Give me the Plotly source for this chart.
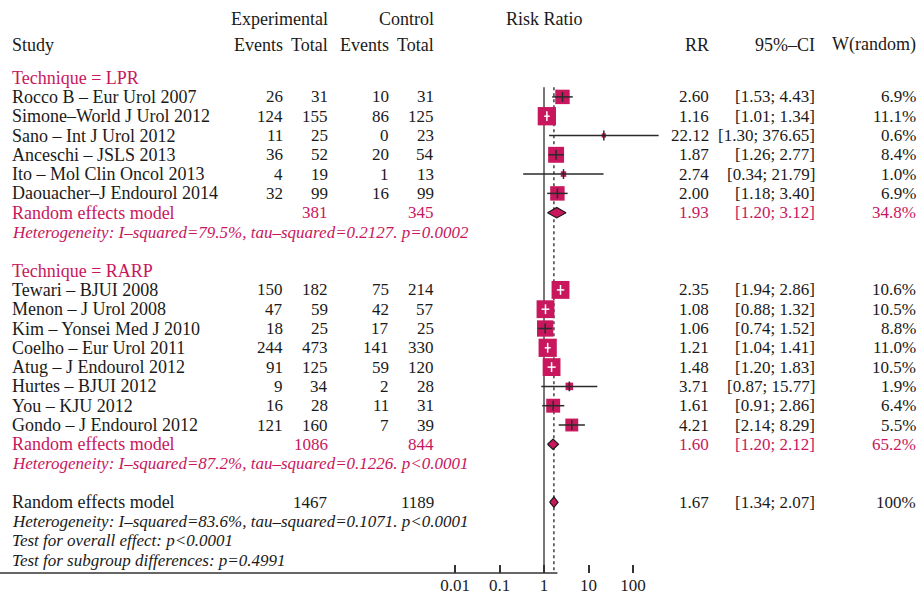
import numpy as np
import plotly.graph_objects as go

# ---------------- data ----------------
lpr_study = ["Rocco B – Eur Urol 2007", "Simone–World J Urol 2012", "Sano – Int J Urol 2012",
             "Anceschi – JSLS 2013", "Ito – Mol Clin Oncol 2013", "Daouacher–J Endourol 2014"]
lpr_exp_ev = [26, 124, 11, 36, 4, 32]
lpr_exp_tot = [31, 155, 25, 52, 19, 99]
lpr_ctl_ev = [10, 86, 0, 20, 1, 16]
lpr_ctl_tot = [31, 125, 23, 54, 13, 99]
lpr_rr = [2.60, 1.16, 22.12, 1.87, 2.74, 2.00]
lpr_lo = [1.53, 1.01, 1.30, 1.26, 0.34, 1.18]
lpr_hi = [4.43, 1.34, 376.65, 2.77, 21.79, 3.40]
lpr_w = [6.9, 11.1, 0.6, 8.4, 1.0, 6.9]
lpr_sum = dict(exp_tot=381, ctl_tot=345, rr=1.93, lo=1.20, hi=3.12, w=34.8)
lpr_het = "Heterogeneity: I–squared=79.5%, tau–squared=0.2127. p=0.0002"

rarp_study = ["Tewari – BJUI 2008", "Menon – J Urol 2008", "Kim – Yonsei Med J 2010",
              "Coelho – Eur Urol 2011", "Atug – J Endourol 2012", "Hurtes – BJUI 2012",
              "You – KJU 2012", "Gondo – J Endourol 2012"]
rarp_exp_ev = [150, 47, 18, 244, 91, 9, 16, 121]
rarp_exp_tot = [182, 59, 25, 473, 125, 34, 28, 160]
rarp_ctl_ev = [75, 42, 17, 141, 59, 2, 11, 7]
rarp_ctl_tot = [214, 57, 25, 330, 120, 28, 31, 39]
rarp_rr = [2.35, 1.08, 1.06, 1.21, 1.48, 3.71, 1.61, 4.21]
rarp_lo = [1.94, 0.88, 0.74, 1.04, 1.20, 0.87, 0.91, 2.14]
rarp_hi = [2.86, 1.32, 1.52, 1.41, 1.83, 15.77, 2.86, 8.29]
rarp_w = [10.6, 10.5, 8.8, 11.0, 10.5, 1.9, 6.4, 5.5]
rarp_sum = dict(exp_tot=1086, ctl_tot=844, rr=1.60, lo=1.20, hi=2.12, w=65.2)
rarp_het = "Heterogeneity: I–squared=87.2%, tau–squared=0.1226. p<0.0001"

overall = dict(exp_tot=1467, ctl_tot=1189, rr=1.67, lo=1.34, hi=2.07, w=100)
overall_texts = ["Heterogeneity: I–squared=83.6%, tau–squared=0.1071. p<0.0001",
                 "Test for overall effect: p<0.0001",
                 "Test for subgroup differences: p=0.4991"]

tick_vals = [0.01, 0.1, 1, 10, 100]
tick_text = ["0.01", "0.1", "1", "10", "100"]

# ---------------- style ----------------
W, H = 917, 597
PINK = "#C8175D"
BLACK = "#1a1a1a"
FONT = "Liberation Serif, Times New Roman, serif"
FS_TXT = 18
FS_NUM = 17
FS_IT = 17
PAD = 3
ROW0_PX, ROW_PX = 77.6, 19.3
AXIS_PX = 573
X1_PX, DEC_PX = 544, 44.5
y_bottom = (AXIS_PX - ROW0_PX) / ROW_PX
y_top = -ROW0_PX / ROW_PX
x_lo = -(X1_PX) / DEC_PX
x_hi = (W - X1_PX) / DEC_PX

fig = go.Figure()
ann = []


def txt(xpx, row, s, anchor="left", color=BLACK, italic=False, size=FS_TXT):
    if italic:
        s = "<i>" + s + "</i>"
    if anchor == "left":
        xpx = xpx - PAD
    elif anchor == "right":
        xpx = xpx + PAD
    ann.append(dict(x=xpx / W, xref="paper", y=row, yref="y", text=s, showarrow=False,
                    xanchor=anchor, yanchor="middle",
                    font=dict(family=FONT, size=size, color=color)))


def num(xpx, row, s, color=BLACK):
    txt(xpx, row, s, "right", color, size=FS_NUM)


# column positions (px)
C_STUDY, C_EEV, C_ETOT, C_CEV, C_CTOT = 13, 282, 327, 388, 433
C_RR, C_CI, C_W = 708, 814, 915

# headers
txt(C_ETOT, -3.04, "Experimental", "right")
txt(C_CTOT, -3.04, "Control", "right")
txt(X1_PX, -3.04, "Risk Ratio", "center")
txt(C_STUDY, -1.69, "Study")
txt(C_EEV, -1.69, "Events", "right")
txt(C_ETOT, -1.69, "Total", "right")
txt(C_CEV, -1.69, "Events", "right")
txt(C_CTOT, -1.69, "Total", "right")
txt(C_RR, -1.69, "RR", "right")
txt(C_CI, -1.69, "95%–CI", "right")
txt(C_W, -1.69, "W(random)", "right")

sq_x, sq_y, sq_s = [], [], []
dark_x, dark_y, white_x, white_y = [], [], [], []
tick_dx, tick_dy, tick_wx, tick_wy = [], [], [], []
diamonds = []


def ci_str(lo, hi):
    return f"[{lo:.2f}; {hi:.2f}]"


def group(start, title, study, eev, etot, cev, ctot, rr, lo, hi, w, summ, het):
    txt(C_STUDY, start, title, color=PINK)
    for i in range(len(study)):
        r = start + 1 + i
        txt(C_STUDY, r, study[i])
        num(C_EEV, r, str(eev[i]))
        num(C_ETOT, r, str(etot[i]))
        num(C_CEV, r, str(cev[i]))
        num(C_CTOT, r, str(ctot[i]))
        num(C_RR, r, f"{rr[i]:.2f}")
        num(C_CI, r, ci_str(lo[i], hi[i]))
        num(C_W, r, f"{w[i]:.1f}%")
        size = 5.5 * np.sqrt(w[i])
        sq_x.append(rr[i]); sq_y.append(r); sq_s.append(size)
        arm = max(np.log10(rr[i] / lo[i]), np.log10(hi[i] / rr[i])) * DEC_PX
        inside = arm < 0.8 * size / 2
        if inside:
            white_x.extend([lo[i], hi[i], None]); white_y.extend([r, r, None])
            tick_wx.append(rr[i]); tick_wy.append(r)
        else:
            dark_x.extend([lo[i], hi[i], None]); dark_y.extend([r, r, None])
            tick_dx.append(rr[i]); tick_dy.append(r)
    rs = start + 1 + len(study)
    txt(C_STUDY, rs, "Random effects model", color=PINK)
    num(C_ETOT, rs, str(summ["exp_tot"]), PINK)
    num(C_CTOT, rs, str(summ["ctl_tot"]), PINK)
    num(C_RR, rs, f"{summ['rr']:.2f}", PINK)
    num(C_CI, rs, ci_str(summ["lo"], summ["hi"]), PINK)
    num(C_W, rs, f"{summ['w']:.1f}%", PINK)
    txt(C_STUDY, rs + 1, het, color=PINK, italic=True, size=FS_IT)
    diamonds.append((summ, rs))
    return rs + 1


end1 = group(0, "Technique = LPR", lpr_study, lpr_exp_ev, lpr_exp_tot, lpr_ctl_ev, lpr_ctl_tot,
             lpr_rr, lpr_lo, lpr_hi, lpr_w, lpr_sum, lpr_het)
end2 = group(end1 + 2, "Technique = RARP", rarp_study, rarp_exp_ev, rarp_exp_tot, rarp_ctl_ev,
             rarp_ctl_tot, rarp_rr, rarp_lo, rarp_hi, rarp_w, rarp_sum, rarp_het)
ro = end2 + 2
txt(C_STUDY, ro, "Random effects model")
num(C_ETOT, ro, str(overall["exp_tot"]))
num(C_CTOT, ro, str(overall["ctl_tot"]))
num(C_RR, ro, f"{overall['rr']:.2f}")
num(C_CI, ro, ci_str(overall["lo"], overall["hi"]))
num(C_W, ro, f"{overall['w']:d}%")
for k, s in enumerate(overall_texts):
    txt(C_STUDY, ro + 1 + k, s, italic=True, size=FS_IT)
diamonds.append((overall, ro))

# reference lines
fig.add_trace(go.Scatter(x=[1, 1], y=[0.5, y_bottom], mode="lines",
                         line=dict(color="#555555", width=1.6), hoverinfo="skip"))
fig.add_trace(go.Scatter(x=[overall["rr"]] * 2, y=[0.5, y_bottom], mode="lines",
                         line=dict(color="#333333", width=1.4, dash="dot"), hoverinfo="skip"))

# squares
fig.add_trace(go.Scatter(x=sq_x, y=sq_y, mode="markers", cliponaxis=False,
                         marker=dict(symbol="square", size=sq_s, color=PINK, opacity=1,
                                     line=dict(width=0)), hoverinfo="skip"))
# CI lines
fig.add_trace(go.Scatter(x=dark_x, y=dark_y, mode="lines",
                         line=dict(color="#2a2a2a", width=1.5), hoverinfo="skip"))
fig.add_trace(go.Scatter(x=white_x, y=white_y, mode="lines",
                         line=dict(color="white", width=1.5), hoverinfo="skip"))
fig.add_trace(go.Scatter(x=tick_dx, y=tick_dy, mode="markers",
                         marker=dict(symbol="line-ns", size=7, opacity=1,
                                     line=dict(color="#2a2a2a", width=1.5)), hoverinfo="skip"))
fig.add_trace(go.Scatter(x=tick_wx, y=tick_wy, mode="markers",
                         marker=dict(symbol="line-ns", size=7, opacity=1,
                                     line=dict(color="white", width=1.5)), hoverinfo="skip"))

# diamonds
DH = 0.27
for summ, r in diamonds:
    fig.add_trace(go.Scatter(x=[summ["lo"], summ["rr"], summ["hi"], summ["rr"], summ["lo"]],
                             y=[r, r - DH, r, r + DH, r], mode="lines", fill="toself",
                             fillcolor=PINK, line=dict(color="#1a1a1a", width=1.2),
                             hoverinfo="skip"))

# axis baseline
fig.add_shape(type="line", xref="x", yref="y domain",
              x0=np.log10(tick_vals[0]), x1=np.log10(tick_vals[-1]), y0=0, y1=0,
              line=dict(color="#333333", width=1.5))

fig.update_layout(
    width=W, height=H, margin=dict(l=0, r=0, t=0, b=0),
    paper_bgcolor="white", plot_bgcolor="white", showlegend=False,
    annotations=ann,
    xaxis=dict(type="log", range=[x_lo, x_hi], domain=[0, 1], tickvals=tick_vals,
               ticktext=tick_text, ticks="inside", ticklen=8, tickwidth=1.5,
               tickcolor="#333333", showgrid=False, zeroline=False, showline=False,
               tickfont=dict(family=FONT, size=FS_NUM, color=BLACK)),
    yaxis=dict(range=[y_bottom, y_top], domain=[1 - AXIS_PX / H, 1], visible=False,
               showgrid=False, zeroline=False),
)

fig.write_html("out.html", config={"displayModeBar": False},
               post_script="document.body.style.margin='0';document.body.style.padding='0';")
